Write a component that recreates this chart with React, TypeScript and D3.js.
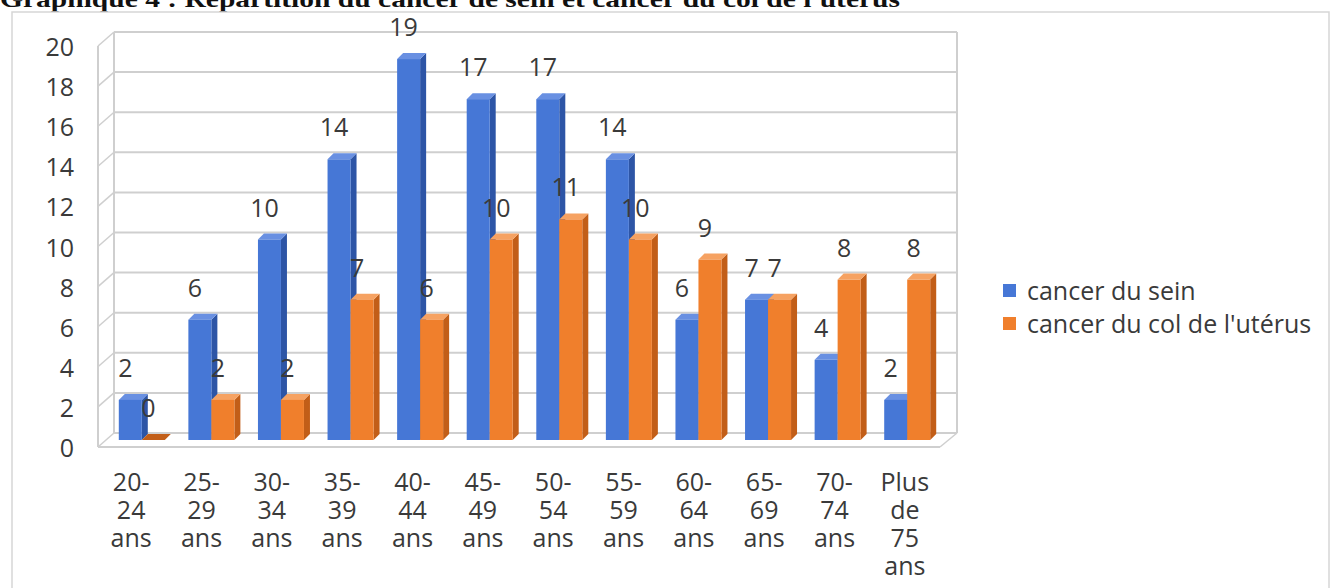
import * as d3 from "d3";

const categories = [
  "20-24 ans", "25-29 ans", "30-34 ans", "35-39 ans", "40-44 ans", "45-49 ans",
  "50-54 ans", "55-59 ans", "60-64 ans", "65-69 ans", "70-74 ans", "Plus de 75 ans",
];
const seinValues = [2, 6, 10, 14, 19, 17, 17, 14, 6, 7, 4, 2];
const colValues = [0, 2, 2, 7, 6, 10, 11, 10, 9, 7, 8, 8];
const yTicks = [0, 2, 4, 6, 8, 10, 12, 14, 16, 18, 20];
const seriesNames = ["cancer du sein", "cancer du col de l'utérus"];
const title = "Graphique 4 : Répartition du cancer de sein et cancer du col de l'utérus";

const W = 1331;
const H = 588;
const FONT = "'Open Sans', sans-serif";
const TXT = "#3a3a3a";
const GRID = "#cfcfcf";

// 3D depth of the plot box (front -> back)
const DX = 16;
const DY = -14;

const series = [
  { name: seriesNames[0], values: seinValues, front: "#4677D6", side: "#2D55A6", top: "#6990E2" },
  { name: seriesNames[1], values: colValues, front: "#F07F2C", side: "#C25E18", top: "#F6A262" },
];

export default function App() {
  const x0 = 98;
  const x1 = 940;
  // front projection of the value axis
  const y = d3.scaleLinear().domain([0, 20]).range([447, 46]);
  const xLabel = d3.scaleBand<string>().domain(categories).range([96, 940]);
  const xBar = d3.scaleBand<string>().domain(categories).range([107, 942]);

  const barW = 23;
  const sideX = 6;
  const sideY = -6;
  const midDY = DY / 2;

  const wrap = (s: string) => s.replace("-", "- ").split(" ");

  return (
    <svg
      width={W}
      height={H}
      style={{ position: "absolute", left: 0, top: 0, background: "#fff" }}
      fontFamily={FONT}
    >
      <text
        x={0}
        y={7}
        fontFamily="'Liberation Serif', serif"
        fontWeight="bold"
        fontSize={24}
        fill="#111"
        textLength={900}
        lengthAdjust="spacingAndGlyphs"
      >
        {title}
      </text>
      <rect x={12} y={12} width={W - 14} height={H} fill="#fff" stroke="#d6d6d6" strokeWidth={1.5} />

      {/* back wall gridlines */}
      {yTicks.map((t) => (
        <line key={"g" + t} x1={x0 + DX} x2={x1 + DX + 1} y1={y(t) + DY} y2={y(t) + DY} stroke={GRID} strokeWidth={2} />
      ))}
      {/* side wall diagonals */}
      {yTicks.map((t) => (
        <line key={"d" + t} x1={x0} x2={x0 + DX} y1={y(t)} y2={y(t) + DY} stroke={GRID} strokeWidth={1.5} />
      ))}
      <line x1={x0 + DX} x2={x0 + DX} y1={y(0) + DY} y2={y(20) + DY} stroke={GRID} strokeWidth={2} />
      <line x1={x1 + DX + 1} x2={x1 + DX + 1} y1={y(0) + DY} y2={y(20) + DY} stroke={GRID} strokeWidth={2} />
      <line x1={x0} x2={x0} y1={y(0)} y2={y(20)} stroke={GRID} strokeWidth={2} />
      {/* floor */}
      <line x1={x0} x2={x1} y1={y(0)} y2={y(0)} stroke={GRID} strokeWidth={2} />
      <line x1={x1} x2={x1 + DX + 1} y1={y(0)} y2={y(0) + DY} stroke={GRID} strokeWidth={1.5} />

      {/* y tick labels */}
      {yTicks.map((t) => (
        <text key={"t" + t} x={74} y={y(t)} textAnchor="end" dominantBaseline="central" fontSize={25} fill={TXT}>
          {t}
        </text>
      ))}

      {/* bars */}
      {categories.map((c) => {
        const gx = xBar(c)! + xBar.bandwidth() / 2;
        return (
          <g key={"b" + c}>
            {series.map((s, si) => {
              const v = s.values[categories.indexOf(c)];
              const bx = gx - barW + si * barW;
              const base = y(0) + midDY;
              const top = y(v) + midDY;
              if (v === 0) {
                return (
                  <path
                    key={si}
                    d={`M${bx},${base}H${bx + barW}l${sideX},${sideY}H${bx + sideX}Z`}
                    fill={s.side}
                  />
                );
              }
              return (
                <g key={si}>
                  <path d={`M${bx + barW},${top}l${sideX},${sideY}V${base + sideY}l${-sideX},${-sideY}Z`} fill={s.side} />
                  <path d={`M${bx},${top}H${bx + barW}l${sideX},${sideY}H${bx + sideX}Z`} fill={s.top} />
                  <rect x={bx} y={top} width={barW} height={base - top} fill={s.front} />
                </g>
              );
            })}
          </g>
        );
      })}

      {/* value labels */}
      {categories.map((c, i) => {
        const gx = xBar(c)! + xBar.bandwidth() / 2;
        return series.map((s, si) => {
          const v = s.values[i];
          const bx = gx - barW + si * barW + barW / 2 - 5;
          return (
            <text
              key={"v" + i + si}
              x={bx}
              y={y(v) + midDY - 33}
              textAnchor="middle"
              dominantBaseline="central"
              fontSize={25}
              fill={TXT}
            >
              {v}
            </text>
          );
        });
      })}

      {/* category labels */}
      {categories.map((c) => {
        const cx = xLabel(c)! + xLabel.bandwidth() / 2;
        return (
          <text key={"c" + c} x={cx} y={491} textAnchor="middle" fontSize={25} fill={TXT}>
            {wrap(c).map((w, k) => (
              <tspan key={k} x={cx} y={491 + k * 28}>
                {w}
              </tspan>
            ))}
          </text>
        );
      })}

      {/* legend */}
      {series.map((s, i) => (
        <g key={"l" + i} transform={`translate(1003,${290 + i * 33})`}>
          <rect x={0} y={-6} width={13} height={13} fill={s.front} />
          <text x={24} y={0} dominantBaseline="central" fontSize={25} fill={TXT}>
            {s.name}
          </text>
        </g>
      ))}
    </svg>
  );
}
